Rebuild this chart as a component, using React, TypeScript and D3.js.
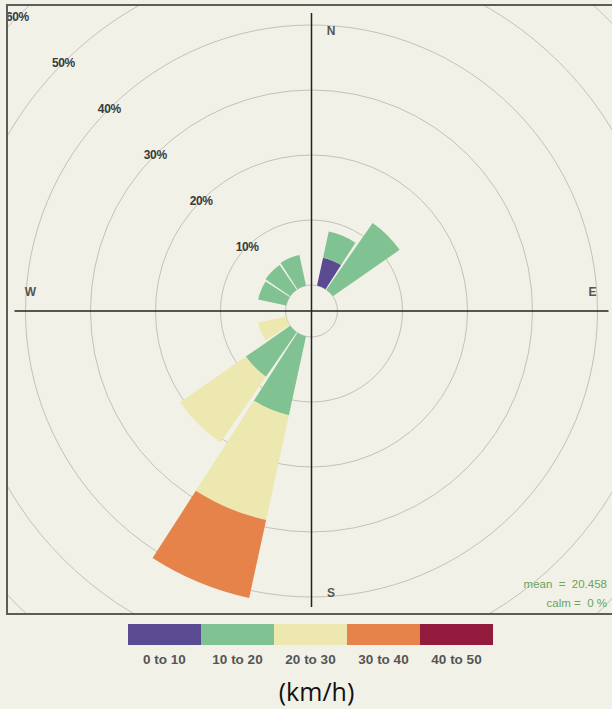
import { useEffect, useRef } from "react";
import * as d3 from "d3";

// 16 compass sectors, values are % of time
const directions = [
  "N", "NNE", "NE", "ENE", "E", "ESE", "SE", "SSE",
  "S", "SSW", "SW", "WSW", "W", "WNW", "NW", "NNW",
];
const speedBins = ["0 to 10", "10 to 20", "20 to 30", "30 to 40", "40 to 50"];
const binColors = ["#5a4a91", "#80c292", "#ede7b0", "#e5834a", "#931b3d"];

const s0to10 = [0, 4.4, 0, 0, 0, 0, 0, 0, 0, 0, 0, 0, 0, 0, 0, 0];
const s10to20 = [0, 4.1, 12.5, 0, 0, 0, 0, 0, 0, 12.4, 8.3, 0, 0, 4.4, 4.6, 4.8];
const s20to30 = [0, 0, 0, 0, 0, 0, 0, 0, 0, 16.5, 12.3, 4.4, 0, 0, 0, 0];
const s30to40 = [0, 0, 0, 0, 0, 0, 0, 0, 0, 12.3, 0, 0, 0, 0, 0, 0];
const s40to50 = [0, 0, 0, 0, 0, 0, 0, 0, 0, 0, 0, 0, 0, 0, 0, 0];
const series = [s0to10, s10to20, s20to30, s30to40, s40to50];

const ringTicks = [10, 20, 30, 40, 50, 60];
const compassLabels = [
  { name: "N", deg: 0 },
  { name: "E", deg: 90 },
  { name: "S", deg: 180 },
  { name: "W", deg: 270 },
];
const meanText = "mean  =  20.458";
const calmText = "calm =  0 %";

const W = 612;
const H = 709;
const BG = "#f1f1e7";

export default function App() {
  const svgRef = useRef<SVGSVGElement>(null);

  useEffect(() => {
    document.body.style.margin = "0";
    document.body.style.background = BG;
    if (!svgRef.current) return;
    const svg = d3.select(svgRef.current);
    svg.selectAll("*").remove();

    const cx = 311.5;
    const cy = 311;
    const box = { x: 7, y: 5, w: 610, h: 609 };
    const font = "'Liberation Sans', Arial, sans-serif";

    svg.append("rect").attr("width", W).attr("height", H).attr("fill", BG);

    svg
      .append("defs")
      .append("clipPath")
      .attr("id", "plotclip")
      .append("rect")
      .attr("x", box.x)
      .attr("y", box.y)
      .attr("width", box.w)
      .attr("height", box.h);

    const r = d3.scaleLinear().domain([0, 60]).range([26, 416]);

    const g = svg.append("g").attr("clip-path", "url(#plotclip)");
    const c = g.append("g").attr("transform", `translate(${cx},${cy})`);

    // grid rings (calm circle + percentage rings)
    c.selectAll("circle.ring")
      .data([0, ...ringTicks])
      .join("circle")
      .attr("class", "ring")
      .attr("r", (d) => r(d))
      .attr("fill", "none")
      .attr("stroke", "#c2c2b8")
      .attr("stroke-width", 1);

    // stacked petals
    const arc = d3.arc<any>();
    const half = (10.25 * Math.PI) / 180;
    const step = (2 * Math.PI) / directions.length;
    const petals: any[] = [];
    directions.forEach((_, i) => {
      let cum = 0;
      series.forEach((s, k) => {
        const v = s[i];
        if (v > 0) {
          petals.push({
            innerRadius: r(cum),
            outerRadius: r(cum + v),
            startAngle: i * step - half,
            endAngle: i * step + half,
            color: binColors[k],
          });
        }
        cum += v;
      });
    });
    c.selectAll("path.petal")
      .data(petals)
      .join("path")
      .attr("class", "petal")
      .attr("d", (d) => arc(d))
      .attr("fill", (d) => d.color);

    // axes
    c.append("line")
      .attr("x1", -297).attr("x2", 297).attr("y1", 0).attr("y2", 0)
      .attr("stroke", "#222").attr("stroke-width", 1.5);
    c.append("line")
      .attr("y1", -298).attr("y2", 296).attr("x1", 0).attr("x2", 0)
      .attr("stroke", "#222").attr("stroke-width", 1.5);

    // ring labels along NW diagonal
    c.selectAll("text.ringlab")
      .data(ringTicks)
      .join("text")
      .attr("class", "ringlab")
      .attr("x", (d) => -r(d) * Math.SQRT1_2)
      .attr("y", (d) => -r(d) * Math.SQRT1_2)
      .attr("text-anchor", "middle")
      .attr("dominant-baseline", "central")
      .attr("font-family", font)
      .attr("font-size", "12px")
      .attr("font-weight", "bold")
      .attr("letter-spacing", "-0.4px")
      .attr("fill", "#3a3a3a")
      .text((d) => `${d}%`);

    // compass labels
    const labR = 281;
    c.selectAll("text.compass")
      .data(compassLabels)
      .join("text")
      .attr("class", "compass")
      .attr("x", (d) => Math.sin((d.deg * Math.PI) / 180) * labR + (d.deg % 180 === 0 ? 19.5 : 0))
      .attr("y", (d) => -Math.cos((d.deg * Math.PI) / 180) * labR + (d.deg % 180 === 0 ? 1 : -19))
      .attr("text-anchor", "middle")
      .attr("dominant-baseline", "central")
      .attr("font-family", font)
      .attr("font-size", "12px")
      .attr("font-weight", "bold")
      .attr("fill", "#555")
      .text((d) => d.name);

    // mean / calm
    [meanText, calmText].forEach((t, i) => {
      g.append("text")
        .attr("x", 607)
        .attr("y", 584 + i * 19)
        .attr("text-anchor", "end")
        .attr("dominant-baseline", "central")
        .attr("font-family", font)
        .attr("font-size", "11.5px")
        .attr("fill", "#68a45a")
        .style("white-space", "pre")
        .text(t);
    });

    // plot frame
    svg
      .append("rect")
      .attr("x", box.x)
      .attr("y", box.y)
      .attr("width", box.w)
      .attr("height", box.h)
      .attr("fill", "none")
      .attr("stroke", "#5c5c5c")
      .attr("stroke-width", 2);

    // legend
    const lx = d3.scaleBand().domain(speedBins).range([128, 493]);
    const leg = svg.append("g");
    leg.selectAll("rect")
      .data(speedBins)
      .join("rect")
      .attr("x", (d) => lx(d)!)
      .attr("y", 624)
      .attr("width", lx.bandwidth())
      .attr("height", 21)
      .attr("fill", (_, i) => binColors[i]);
    leg.selectAll("text")
      .data(speedBins)
      .join("text")
      .attr("x", (d) => lx(d)! + lx.bandwidth() / 2)
      .attr("y", 659)
      .attr("text-anchor", "middle")
      .attr("dominant-baseline", "central")
      .attr("font-family", font)
      .attr("font-size", "13.5px")
      .attr("font-weight", "bold")
      .attr("fill", "#555")
      .text((d) => d);

    svg
      .append("text")
      .attr("x", 316.5)
      .attr("y", 701)
      .attr("text-anchor", "middle")
      .attr("font-family", "'Open Sans', 'Noto Sans', sans-serif")
      .attr("font-size", "25px")
      .attr("font-weight", 500)
      .attr("fill", "#111")
      .text("(km/h)");
  }, []);

  return <svg ref={svgRef} width={W} height={H} style={{ display: "block" }} />;
}
